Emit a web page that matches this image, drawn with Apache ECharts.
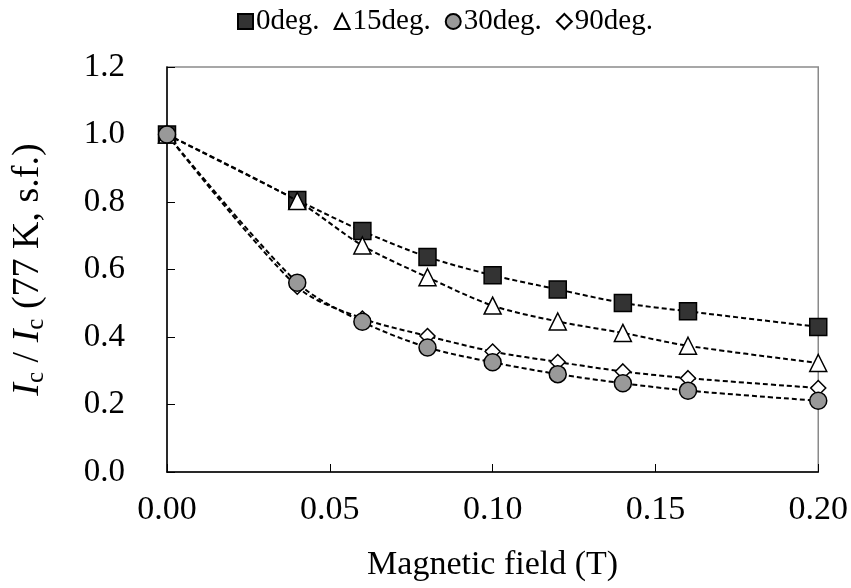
<!DOCTYPE html>
<html>
<head>
<meta charset="utf-8">
<script src="https://cdn.jsdelivr.net/npm/echarts@6/dist/echarts.min.js"></script>
<style>html,body{margin:0;padding:0;background:#fff}#c{width:851px;height:588px}</style>
</head>
<body>
<div id="c"></div>
<script>
var fieldT = [0, 0.04, 0.06, 0.08, 0.10, 0.12, 0.14, 0.16, 0.20];
var deg0 = [1.0, 0.806, 0.714, 0.637, 0.583, 0.541, 0.501, 0.476, 0.430];
var deg15 = [1.0, 0.803, 0.671, 0.577, 0.493, 0.446, 0.412, 0.374, 0.323];
var deg30 = [1.0, 0.561, 0.445, 0.369, 0.325, 0.290, 0.263, 0.241, 0.211];
var deg90 = [1.0, 0.549, 0.455, 0.403, 0.357, 0.326, 0.298, 0.278, 0.249];
var seriesNames = ['0deg.', '15deg.', '30deg.', '90deg.'];
var xTicks = [0, 0.05, 0.10, 0.15, 0.20];
var yTicks = [0, 0.2, 0.4, 0.6, 0.8, 1.0, 1.2];

function pairs(ys) { return fieldT.map(function (x, i) { return [x, ys[i]]; }); }

var font = 'Liberation Serif';
var chart = echarts.init(document.getElementById('c'));

function mk(name, ys, symbol, size, fill, z) {
  return {
    name: name, type: 'line', data: pairs(ys), smooth: 0.3,
    symbol: symbol, symbolSize: size, z: z,
    lineStyle: { color: '#000', width: 2, type: [5, 3] },
    itemStyle: { color: fill, borderColor: '#000', borderWidth: 1.5 }
  };
}

chart.setOption({
  animation: false,
  textStyle: { fontFamily: font },
  legend: {
    top: 2, left: 232, itemGap: 14, itemWidth: 15, itemHeight: 15,
    textStyle: { fontFamily: font, fontSize: 29, color: '#000', padding: [0, 0, 0, -2] },
    data: [
      { name: seriesNames[0], icon: 'rect' },
      { name: seriesNames[1], icon: 'triangle' },
      { name: seriesNames[2], icon: 'circle' },
      { name: seriesNames[3], icon: 'diamond' }
    ]
  },
  grid: { left: 167, right: 30, top: 67, bottom: 116, show: true, borderColor: '#8a8a8a', borderWidth: 1.5 },
  xAxis: {
    type: 'value', min: 0, max: 0.2, interval: 0.05,
    name: 'Magnetic field (T)', nameLocation: 'middle', nameGap: 76,
    nameTextStyle: { fontFamily: font, fontSize: 34, color: '#000' },
    axisLine: { show: true, onZero: false, lineStyle: { color: '#000', width: 1.5 } },
    axisTick: { show: true, inside: true, length: 8, lineStyle: { color: '#000' } },
    axisLabel: { margin: 21, fontFamily: font, fontSize: 34, color: '#000', formatter: function (v) { return v.toFixed(2); } },
    splitLine: { show: false }
  },
  yAxis: {
    type: 'value', min: 0, max: 1.2, interval: 0.2,
    name: '{i|I}{s|c}{n| / }{i|I}{s|c}{n| (77 K, s.f.)}', nameLocation: 'middle', nameGap: 118, nameRotate: 90,
    nameTextStyle: {
      fontFamily: font, fontSize: 38, color: '#000',
      rich: {
        i: { fontFamily: font, fontSize: 38, fontStyle: 'italic', color: '#000', height: 42, verticalAlign: 'top' },
        n: { fontFamily: font, fontSize: 38, color: '#000', height: 42, verticalAlign: 'top' },
        s: { fontFamily: font, fontSize: 25, color: '#000', height: 42, verticalAlign: 'bottom', padding: [0, 0, -8, 0] }
      }
    },
    axisLine: { show: true, lineStyle: { color: '#000', width: 1.5 } },
    axisTick: { show: true, inside: true, length: 8, lineStyle: { color: '#000' } },
    axisLabel: { margin: 42, fontFamily: font, fontSize: 33, color: '#000', formatter: function (v) { return v.toFixed(1); } },
    splitLine: { show: false }
  },
  series: [
    mk(seriesNames[0], deg0, 'rect', 17, '#333333', 2),
    mk(seriesNames[1], deg15, 'triangle', 17, '#ffffff', 3),
    mk(seriesNames[3], deg90, 'diamond', 15, '#ffffff', 2),
    mk(seriesNames[2], deg30, 'circle', 17, '#999999', 3)
  ]
});
</script>
</body>
</html>
